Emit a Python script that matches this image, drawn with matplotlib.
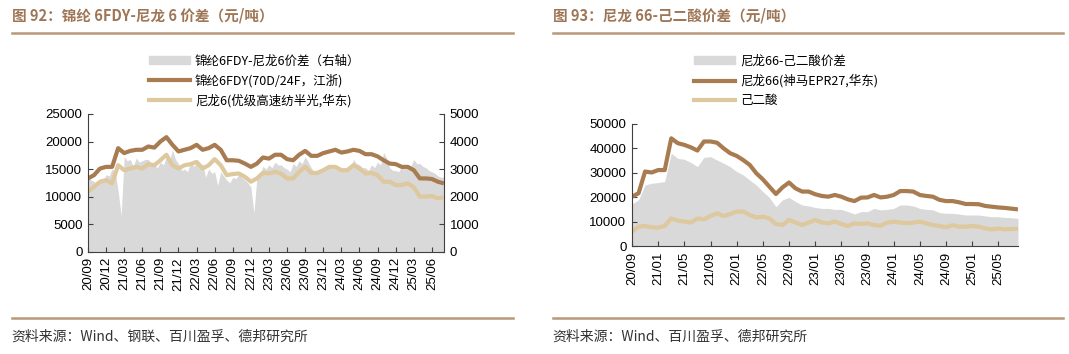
import numpy as np
import matplotlib
matplotlib.use("Agg")
import matplotlib.pyplot as plt
from matplotlib.patches import Patch
from matplotlib.lines import Line2D

plt.rcParams['font.family'] = ['Noto Sans CJK SC', 'DejaVu Sans']

# ---------------- data (monthly, 2020/09 .. 2025/08) ----------------
fdy = [13300, 13900, 15100, 15400, 15400, 18800, 17900, 18300, 18500, 18500, 19100, 18900,
       20000, 20800, 19400, 18200, 18500, 18800, 19400, 18500, 18800, 19400, 18500, 16600,
       16600, 16500, 16000, 15400, 16000, 17100, 16900, 17600, 17600, 16800, 16600, 17600,
       18300, 17400, 17400, 17900, 18200, 18500, 18000, 18200, 18500, 18300, 17700, 17700,
       17300, 16600, 16000, 15900, 15400, 15400, 14800, 13300, 13300, 13200, 12700, 12400]
pa6 = [10900, 11800, 12700, 13000, 12400, 15700, 14800, 15100, 15400, 15100, 15900, 15700,
       16600, 17600, 15700, 15100, 15700, 15900, 16300, 15100, 15700, 16800, 15700, 13900,
       14100, 14200, 13600, 12700, 13300, 14300, 14200, 14500, 14200, 13300, 13300, 14500,
       15400, 14300, 14300, 14800, 15400, 15400, 14800, 14800, 15700, 15100, 14200, 14300,
       13900, 12700, 12700, 12100, 12100, 12400, 11700, 10000, 10000, 10100, 9700, 9900]
# spread, half-monthly, right axis
fdy_spread = [2700, 2600, 2550, 2450, 2650, 2550, 2800, 2750, 3000, 2900, 2200, 1300,
              3450, 3300, 3350, 3100, 3400, 3250, 3300, 3350, 3350, 3200, 3150, 3050,
              3250, 3150, 3450, 3300, 3700, 3350, 3200, 2950, 3000, 2900, 3250, 3100,
              3200, 3050, 3200, 2700, 3000, 2850, 2900, 2400, 2900, 2750, 2600, 2500,
              2700, 2650, 2800, 2700, 2600, 2500, 2350, 1400, 2700, 2800, 3100, 3000,
              3150, 3050, 3250, 3150, 3150, 3050, 3000, 2900, 3200, 3100, 3300, 3200,
              3450, 3250, 3050, 2900, 2950, 2850, 3050, 2950, 3100, 3000, 3100, 2950,
              3050, 2950, 3100, 3000, 3350, 3200, 3150, 3050, 3050, 2950, 3150, 3050,
              3250, 3150, 3600, 3400, 3050, 2950, 2950, 2900, 3100, 3000, 3150, 3100,
              3350, 3200, 3200, 3100, 3050, 2950, 2900, 2850, 2750, 2700, 2720, 2700]

pa66 = [20200, 21600, 30500, 30100, 31100, 31100, 44100, 42100, 41400, 40400, 39100, 42800,
        42800, 42300, 40000, 38000, 36900, 35200, 33200, 29800, 27300, 24300, 21300, 24000,
        26000, 23600, 22300, 22300, 21200, 20500, 20200, 20900, 20200, 19100, 18400, 19800,
        19900, 20900, 19900, 20200, 20900, 22500, 22500, 22300, 20900, 20500, 20200, 18900,
        18400, 18400, 17900, 17200, 17200, 17100, 16400, 16100, 15800, 15600, 15300, 15000]
adipic = [5900, 7900, 8200, 7700, 7500, 8200, 11300, 10400, 10000, 9600, 11300, 10900,
          12300, 13400, 12300, 13100, 14100, 14100, 12700, 11700, 12000, 11300, 9000, 8600,
          10700, 9600, 8600, 9600, 10700, 9600, 9300, 10000, 9000, 8200, 9300, 9000,
          9300, 8600, 8300, 9600, 10000, 9600, 9300, 9600, 10000, 9300, 8600, 8200,
          7700, 8500, 7900, 7900, 8200, 7900, 7200, 6800, 7200, 6800, 7000, 7000]
pa66_spread = [17200, 18900, 25000, 25700, 26000, 26400, 38000, 35900, 35500, 34200, 32500, 36300,
               36600, 35200, 33900, 32500, 30500, 29100, 27000, 25000, 22300, 19900, 16100, 18900,
               19900, 18200, 16800, 16400, 15800, 15400, 15400, 15000, 15000, 14100, 13100, 14100,
               14100, 15400, 14800, 15000, 15400, 16800, 16800, 16400, 15400, 15000, 14800, 13700,
               13400, 13400, 13100, 12700, 12700, 12700, 12300, 12000, 12000, 11700, 11600, 11300]

ticks_left = ['20/09', '20/12', '21/03', '21/06', '21/09', '21/12', '22/03', '22/06', '22/09',
              '22/12', '23/03', '23/06', '23/09', '23/12', '24/03', '24/06', '24/09', '24/12',
              '25/03', '25/06']
ticks_right = ['20/09', '21/01', '21/05', '21/09', '22/01', '22/05', '22/09', '23/01', '23/05',
               '23/09', '24/01', '24/05', '24/09', '25/01', '25/05']

BROWN = '#A87C50'
TAN = '#DEC89E'
GRAY = '#D9D9D9'
TITLE_C = '#9E7656'
RULE_C = '#B8997A'
NUM_FONT = ['Liberation Sans', 'DejaVu Sans']

m = np.arange(len(fdy))
h = np.arange(len(fdy_spread)) / 2.0

fig = plt.figure(figsize=(10.69, 3.54), dpi=100)


def style_ax(ax):
    ax.spines['top'].set_visible(False)
    for s in ax.spines.values():
        s.set_color('#404040')
        s.set_linewidth(0.8)
    ax.tick_params(direction='in', length=3.5, width=0.8, color='#404040',
                   labelsize=9.5, pad=4)
    for lab in ax.get_yticklabels() + ax.get_xticklabels():
        lab.set_family(NUM_FONT)


def legend(handles, labels, x):
    fig.legend(handles, labels, loc='upper left', bbox_to_anchor=(x, 0.845), frameon=False,
               fontsize=9, handlelength=3.3, handleheight=0.6, labelspacing=0.5,
               handletextpad=0.4, borderpad=0, borderaxespad=0)


# ---------------- left chart ----------------
ax = fig.add_axes([0.0823, 0.289, 0.333, 0.389])
ax2 = ax.twinx()
ax2.fill_between(h, fdy_spread, color=GRAY, lw=0)
ax.plot(m, fdy, color=BROWN, lw=3, solid_capstyle='butt')
ax.plot(m, pa6, color=TAN, lw=3, solid_capstyle='butt')
ax.set_zorder(ax2.get_zorder() + 1)
ax.patch.set_visible(False)
ax.set_xlim(0, 59)
ax.set_ylim(0, 25000)
ax.set_yticks(range(0, 25001, 5000))
ax2.set_ylim(0, 5000)
ax2.set_yticks(range(0, 5001, 1000))
ax.set_xticks(range(0, 3 * len(ticks_left), 3))
ax.set_xticklabels(ticks_left, rotation=90)
style_ax(ax)
style_ax(ax2)
ax.spines['right'].set_visible(False)
ax2.spines['left'].set_visible(False)
ax2.spines['bottom'].set_visible(False)

legend([Patch(color=GRAY), Line2D([], [], color=BROWN, lw=3), Line2D([], [], color=TAN, lw=3)],
       ['锦纶6FDY-尼龙6价差（右轴）', '锦纶6FDY(70D/24F，江浙)', '尼龙6(优级高速纺半光,华东)'],
       0.139)

# ---------------- right chart ----------------
bx = fig.add_axes([0.5912, 0.305, 0.3611, 0.345])
bx.fill_between(m, pa66_spread, color=GRAY, lw=0)
bx.plot(m, pa66, color=BROWN, lw=3, solid_capstyle='butt')
bx.plot(m, adipic, color=TAN, lw=3, solid_capstyle='butt')
bx.set_xlim(0, 59)
bx.set_ylim(0, 50000)
bx.set_yticks(range(0, 50001, 10000))
bx.set_xticks(range(0, 4 * len(ticks_right), 4))
bx.set_xticklabels(ticks_right, rotation=90)
style_ax(bx)
bx.spines['right'].set_visible(False)

legend([Patch(color=GRAY), Line2D([], [], color=BROWN, lw=3), Line2D([], [], color=TAN, lw=3)],
       ['尼龙66-己二酸价差', '尼龙66(神马EPR27,华东)', '己二酸'],
       0.649)

# ---------------- titles, rules, sources ----------------
fig.text(0.011, 0.955, '图 92：锦纶 6FDY-尼龙 6 价差（元/吨）', fontsize=10.5, fontweight='bold',
         color=TITLE_C, va='center')
fig.text(0.517, 0.955, '图 93：尼龙 66-己二酸价差（元/吨）', fontsize=10.5, fontweight='bold',
         color=TITLE_C, va='center')
for x0, x1 in [(0.011, 0.48), (0.517, 0.994)]:
    fig.add_artist(Line2D([x0, x1], [0.907, 0.907], color=RULE_C, lw=1.8))
    fig.add_artist(Line2D([x0, x1], [0.102, 0.102], color=RULE_C, lw=1.8))
fig.text(0.011, 0.05, '资料来源：Wind、钢联、百川盈孚、德邦研究所', fontsize=10, color='#333333',
         va='center')
fig.text(0.517, 0.05, '资料来源：Wind、百川盈孚、德邦研究所', fontsize=10, color='#333333',
         va='center')

fig.savefig('out.png', dpi=100)
